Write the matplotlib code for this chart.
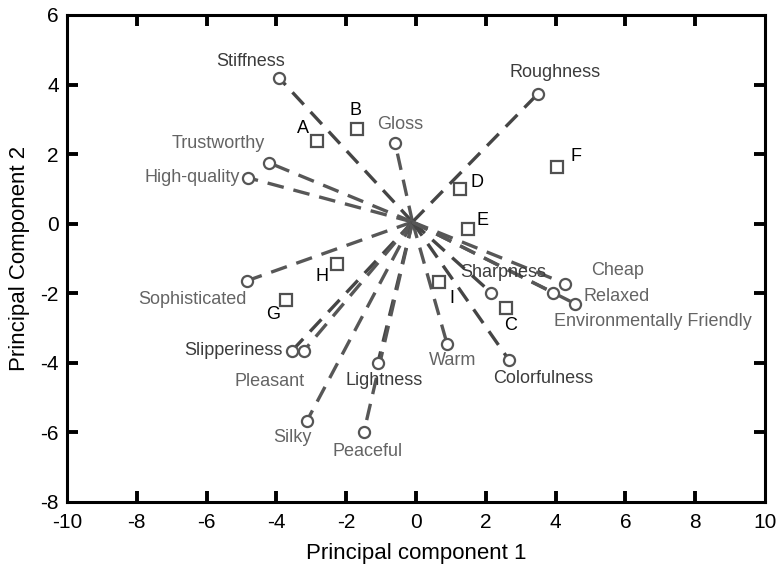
import matplotlib
matplotlib.use("Agg")
import matplotlib.pyplot as plt

plt.rcParams['font.family'] = ['Liberation Sans', 'DejaVu Sans']
plt.rcParams['axes.unicode_minus'] = False

# Attribute loadings (vector tips)
attr_names = ["Stiffness", "Gloss", "Roughness", "Trustworthy", "High-quality",
              "Sophisticated", "Slipperiness", "Pleasant", "Silky", "Lightness",
              "Peaceful", "Warm", "Colorfulness", "Sharpness", "Cheap", "Relaxed",
              "Environmentally Friendly"]
attr_pc1 = [-3.93, -0.60, 3.50, -4.21, -4.81, -4.84, -3.55, -3.21, -3.12, -1.09,
            -1.49, 0.89, 2.66, 2.15, 4.27, 3.93, 4.56]
attr_pc2 = [4.20, 2.33, 3.74, 1.75, 1.32, -1.64, -3.65, -3.65, -5.66, -3.99,
            -5.98, -3.45, -3.91, -1.98, -1.72, -1.98, -2.30]

# Sample scores
sample_names = ["A", "B", "C", "D", "E", "F", "G", "H", "I"]
sample_pc1 = [-2.84, -1.69, 2.58, 1.26, 1.49, 4.04, -3.72, -2.26, 0.66]
sample_pc2 = [2.39, 2.73, -2.41, 1.00, -0.14, 1.64, -2.18, -1.15, -1.67]

# Styling for the attribute labels: (dx, dy) offset in pixels, alignment, colour
dark, light = "#3c3c3c", "#646464"
attr_style = {
    "Stiffness": ((-28, 16), "center", dark),
    "Gloss": ((5, 18), "center", light),
    "Roughness": ((17, 21), "center", dark),
    "Trustworthy": ((-51, 19), "center", light),
    "High-quality": ((-8, 0), "right", light),
    "Sophisticated": ((-55, -19), "center", light),
    "Slipperiness": ((-9, 0), "right", dark),
    "Pleasant": ((-34, -31), "center", light),
    "Silky": ((-15, -17), "center", light),
    "Lightness": ((6, -18), "center", dark),
    "Peaceful": ((4, -20), "center", light),
    "Warm": ((6, -17), "center", light),
    "Colorfulness": ((34, -19), "center", dark),
    "Sharpness": ((12, 20), "center", dark),
    "Cheap": ((53, 13), "center", light),
    "Relaxed": ((30, -4), "left", light),
    "Environmentally Friendly": ((78, -18), "center", light),
}
line_color = {name: ("#454545" if c == dark else "#575757") for name, (_, _, c) in attr_style.items()}
sample_offsets = {
    "A": (-14, 12), "B": (-1, 18), "C": (5, -18), "D": (17, 6), "E": (15, 8),
    "F": (19, 10), "G": (-13, -15), "H": (-15, -13), "I": (13, -17),
}

origin = (-0.1, 0.05)

fig = plt.figure(figsize=(7.76, 5.68), dpi=100)
ax = fig.add_axes([0.0863, 0.1162, 0.8995, 0.8574])

for name, x, y in zip(attr_names, attr_pc1, attr_pc2):
    ax.plot([origin[0], x], [origin[1], y], color=line_color[name], lw=2.4,
            dashes=(5, 3), zorder=2)
    ax.plot(x, y, marker="o", ms=8, mfc="white", mec="#555555", mew=1.6,
            linestyle="none", zorder=3)
    (dx, dy), ha, col = attr_style[name]
    ax.annotate(name, (x, y), xytext=(dx, dy), textcoords="offset pixels",
                ha=ha, va="center", fontsize=13, color=col, zorder=4)

ax.plot(sample_pc1, sample_pc2, marker="s", ms=8, mfc="white", mec="#505050",
        mew=1.6, linestyle="none", zorder=3)
for name, x, y in zip(sample_names, sample_pc1, sample_pc2):
    dx, dy = sample_offsets[name]
    ax.annotate(name, (x, y), xytext=(dx, dy), textcoords="offset pixels",
                ha="center", va="center", fontsize=13, color="black", zorder=4)

ax.set_xlim(-10, 10)
ax.set_ylim(-8, 6)
ax.set_xticks(range(-10, 11, 2))
ax.set_yticks(range(-8, 7, 2))
ax.tick_params(direction="in", length=8, width=2.8, top=True, right=True,
               labelsize=15, colors="black")
ax.tick_params(axis="x", pad=8)
ax.tick_params(axis="y", pad=6)
# no tick marks at the frame corners
for axis in (ax.xaxis, ax.yaxis):
    ticks = axis.get_major_ticks()
    for t in (ticks[0], ticks[-1]):
        t.tick1line.set_visible(False)
        t.tick2line.set_visible(False)
for sp in ax.spines.values():
    sp.set_linewidth(2.2)
ax.set_xlabel("Principal component 1", fontsize=16, labelpad=8)
ax.set_ylabel("Principal Component 2", fontsize=16, labelpad=7)

fig.savefig("out.png", dpi=100)
